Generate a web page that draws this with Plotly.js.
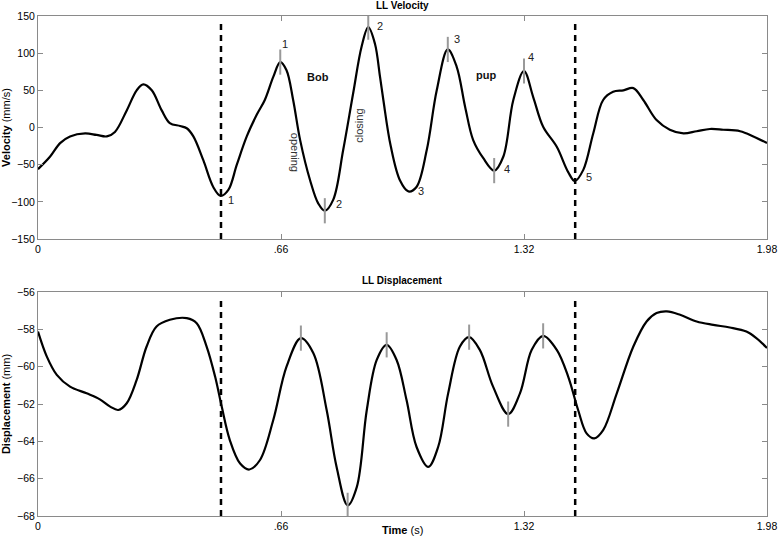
<!DOCTYPE html>
<html><head><meta charset="utf-8">
<script src="https://cdn.plot.ly/plotly-3.0.1.min.js"></script>
<style>html,body{margin:0;padding:0;background:#fff}#c{width:778px;height:543px}</style>
</head><body><div id="c"></div>
<script>
// Velocity series (time s, mm/s)
const tVel = [0,0.033,0.06,0.087,0.128,0.159,0.187,0.209,0.241,0.268,0.286,0.309,0.336,0.358,0.386,0.404,0.422,0.449,0.476,0.496,0.517,0.54,0.567,0.594,0.616,0.639,0.658,0.675,0.693,0.712,0.739,0.761,0.779,0.802,0.829,0.856,0.879,0.897,0.915,0.929,0.938,0.958,0.983,1.006,1.028,1.056,1.083,1.113,1.137,1.16,1.182,1.209,1.239,1.264,1.291,1.32,1.345,1.372,1.409,1.44,1.458,1.481,1.508,1.535,1.562,1.59,1.617,1.644,1.68,1.716,1.753,1.789,1.825,1.861,1.907,1.943,1.98];
const vel = [-56,-39,-21,-12,-8,-10,-12,-6,23,50,58,50,23,6,2,-1,-12,-44,-80,-92,-84,-50,-12,17,37,68,88,77,37,-17,-71,-102,-112,-97,-30,46,109,135,113,68,37,-25,-71,-86,-80,-30,50,105,82,28,-17,-41,-58,-39,37,76,41,1,-26,-60,-72,-57,-8,37,48,50,53,37,10,-3,-8,-5,-2,-3,-5,-12,-21];
// Displacement series (time s, mm)
const tDisp = [0,0.024,0.051,0.087,0.132,0.168,0.196,0.218,0.241,0.268,0.295,0.322,0.358,0.404,0.431,0.458,0.481,0.499,0.521,0.549,0.574,0.603,0.639,0.675,0.714,0.748,0.784,0.811,0.841,0.866,0.893,0.92,0.947,0.974,1.001,1.028,1.06,1.087,1.114,1.146,1.171,1.2,1.236,1.277,1.309,1.341,1.372,1.409,1.44,1.467,1.49,1.511,1.535,1.572,1.617,1.653,1.68,1.708,1.744,1.789,1.834,1.879,1.924,1.951,1.98];
const disp = [-58.12,-59.46,-60.44,-61.07,-61.43,-61.75,-62.14,-62.32,-61.96,-60.71,-58.92,-57.85,-57.49,-57.40,-57.67,-58.92,-60.53,-62.14,-63.93,-65.19,-65.51,-65.0,-62.86,-60.0,-58.47,-59.28,-62.32,-65.37,-67.43,-66.44,-62.32,-59.64,-58.83,-59.64,-61.79,-64.29,-65.37,-64.29,-61.43,-58.92,-58.42,-59.1,-61.07,-62.54,-61.43,-59.1,-58.35,-59.1,-60.53,-62.32,-63.57,-63.84,-63.4,-61.43,-58.92,-57.58,-57.13,-57.04,-57.22,-57.58,-57.76,-57.90,-58.12,-58.47,-59.0];
// Gray extremum markers
const velMarkT = [0.658,0.779,0.897,1.113,1.239,1.32];
const velMarkV = [88,-112,135,105,-58,76];
const dispMarkT = [0.714,0.841,0.947,1.171,1.277,1.372];
const dispMarkV = [-58.47,-67.43,-58.83,-58.42,-62.54,-58.35];
// Segment boundaries (dashed)
const boundT = [0.497,1.459];
// Extremum number labels
const numText = ['1','1','2','2','3','3','4','4','5'];
const numT = [0.523,0.671,0.818,0.929,1.04,1.139,1.273,1.339,1.496];
const numV = [-97,113,-103,136,-85,119,-56,95,-66];
// Word labels
const wordText = ['<b>Bob</b>','<b>pup</b>','opening','closing'];
const wordT = [0.76,1.217,0.698,0.873];
const wordV = [68,70,-34,3];
const wordAngle = [0,0,90,-90];
// Axis ticks
const xTickVals = [0,0.66,1.32,1.98];
const xTickText = ['0','.66','1.32','1.98'];

const FONT = 'Liberation Sans, Arial, sans-serif';
const gray = '#8a8a8a';
const traces = [
  {x:tVel,y:vel,xaxis:'x',yaxis:'y',mode:'lines',line:{color:'#000',width:2.2,shape:'spline',smoothing:1},hoverinfo:'skip'},
  {x:velMarkT,y:velMarkV,xaxis:'x',yaxis:'y',mode:'markers',marker:{symbol:'line-ns',size:18,line:{color:'#999',width:2}}},
  {x:tDisp,y:disp,xaxis:'x2',yaxis:'y2',mode:'lines',line:{color:'#000',width:2.2,shape:'spline',smoothing:1},hoverinfo:'skip'},
  {x:dispMarkT,y:dispMarkV,xaxis:'x2',yaxis:'y2',mode:'markers',marker:{symbol:'line-ns',size:18,line:{color:'#999',width:2}}}
];
const shapes = [];
boundT.forEach(t=>{
  shapes.push({type:'line',xref:'x',yref:'y domain',x0:t,x1:t,y0:0,y1:0.98,line:{color:'#000',width:2.5,dash:'6px,5px'}});
  shapes.push({type:'line',xref:'x2',yref:'y2 domain',x0:t,x1:t,y0:0,y1:0.975,line:{color:'#000',width:2.5,dash:'6px,5px'}});
});
const annotations = [];
numText.forEach((s,i)=>annotations.push({x:numT[i],y:numV[i],xref:'x',yref:'y',text:s,showarrow:false,font:{family:FONT,size:11,color:'#222'}}));
wordText.forEach((s,i)=>annotations.push({x:wordT[i],y:wordV[i],xref:'x',yref:'y',text:s,showarrow:false,textangle:wordAngle[i],font:{family:FONT,size:11,color:i<2?'#111':'#333'}}));
annotations.push({x:0.5,y:1,xref:'x domain',yref:'y domain',yshift:3,yanchor:'bottom',text:'<b>LL Velocity</b>',showarrow:false,font:{family:FONT,size:10,color:'#000'}});
annotations.push({x:0.5,y:1,xref:'x2 domain',yref:'y2 domain',yshift:4,yanchor:'bottom',text:'<b>LL Displacement</b>',showarrow:false,font:{family:FONT,size:10,color:'#000'}});
annotations.push({x:0.5,y:0,xref:'x2 domain',yref:'y2 domain',yshift:-6,yanchor:'top',text:'<b>Time</b> (s)',showarrow:false,font:{family:FONT,size:11,color:'#000'}});

const axBase = {showline:true,linecolor:gray,linewidth:1,mirror:'ticks',ticks:'inside',ticklen:5,tickcolor:gray,showgrid:false,zeroline:false,tickfont:{family:FONT,size:10.5,color:'#000'}};
const layout = {
  width:778,height:543,margin:{l:38,r:11,t:16,b:27},
  paper_bgcolor:'#fff',plot_bgcolor:'#fff',showlegend:false,font:{family:FONT,size:11,color:'#000'},
  xaxis:Object.assign({},axBase,{domain:[0,1],range:[0,1.98],tickvals:xTickVals,ticktext:xTickText,anchor:'y'}),
  yaxis:Object.assign({},axBase,{domain:[0.554,1],range:[-150,150],tickvals:[-150,-100,-50,0,50,100,150],anchor:'x',
    title:{text:'<b>Velocity</b> (mm/s)',standoff:5,font:{family:FONT,size:11}}}),
  xaxis2:Object.assign({},axBase,{domain:[0,1],range:[0,1.98],tickvals:xTickVals,ticktext:xTickText,anchor:'y2'}),
  yaxis2:Object.assign({},axBase,{domain:[0,0.448],range:[-68,-56],tickvals:[-68,-66,-64,-62,-60,-58,-56],anchor:'x2',
    title:{text:'<b>Displacement</b> (mm)',standoff:5,font:{family:FONT,size:11}}}),
  shapes:shapes,annotations:annotations
};
Plotly.newPlot('c',traces,layout,{displayModeBar:false,staticPlot:true});
</script></body></html>
